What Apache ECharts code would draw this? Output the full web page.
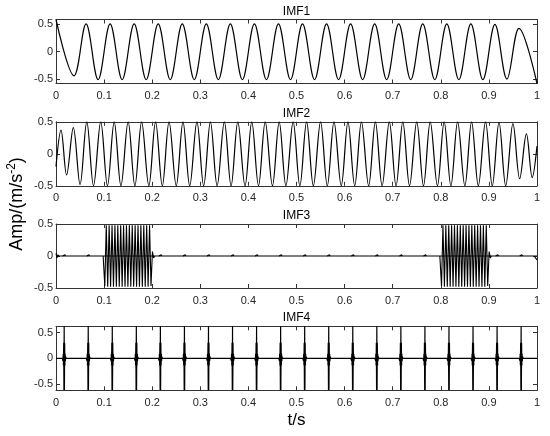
<!DOCTYPE html>
<html><head><meta charset="utf-8">
<script src="https://cdn.jsdelivr.net/npm/echarts@6/dist/echarts.min.js"></script>
<style>html,body{margin:0;padding:0;background:#fff}#c{width:550px;height:436px}</style>
</head><body><div id="c"></div>
<script>
// ---------------- data ----------------
const panelTitles = ['IMF1', 'IMF2', 'IMF3', 'IMF4'];
const yLimits = [0.58, 0.5, 0.5, 0.62];
const yTickValues = [-0.5, 0, 0.5];
const xLabel = 't/s';

// IMF1: extrema of the ~20 Hz component
const imf1T = [0, 0.0375, 0.0625, 0.0875, 0.1125, 0.1375, 0.1625, 0.1875, 0.2125, 0.2375,
  0.2625, 0.2875, 0.3125, 0.3375, 0.3625, 0.3875, 0.4125, 0.4375, 0.4625, 0.4875,
  0.5125, 0.5375, 0.5625, 0.5875, 0.6125, 0.6375, 0.6625, 0.6875, 0.7125, 0.7375,
  0.7625, 0.7875, 0.8125, 0.8375, 0.8625, 0.8875, 0.9125, 0.9375, 0.9625, 1];
const imf1V = [0.58, -0.44, 0.5, -0.51, 0.5, -0.51, 0.5, -0.51, 0.5, -0.51,
  0.5, -0.51, 0.5, -0.51, 0.5, -0.51, 0.5, -0.51, 0.5, -0.51,
  0.5, -0.51, 0.5, -0.51, 0.5, -0.51, 0.5, -0.51, 0.5, -0.51,
  0.5, -0.51, 0.5, -0.51, 0.5, -0.51, 0.49, -0.5, 0.42, -0.58];

// IMF2: extrema of the ~35 Hz component
const imf2T = [0, 0.0104, 0.022, 0.036, 0.050,
  0.064, 0.078, 0.093, 0.107, 0.121, 0.135, 0.150,
  0.164, 0.178, 0.193, 0.207, 0.221, 0.235, 0.250,
  0.264, 0.278, 0.293, 0.307, 0.321, 0.335, 0.350,
  0.364, 0.378, 0.393, 0.407, 0.421, 0.435, 0.450,
  0.464, 0.478, 0.493, 0.507, 0.521, 0.535, 0.550,
  0.564, 0.578, 0.593, 0.607, 0.621, 0.635, 0.650,
  0.664, 0.678, 0.693, 0.707, 0.721, 0.735, 0.750,
  0.764, 0.778, 0.793, 0.807, 0.821, 0.835, 0.850,
  0.864, 0.878, 0.893, 0.907, 0.921, 0.935, 0.950,
  0.964, 0.978, 0.990, 1.0];
const imf2V = [-0.2, 0.37, -0.33, 0.41, -0.48,
  0.5, -0.5, 0.5, -0.5, 0.5, -0.5, 0.5,
  -0.5, 0.5, -0.5, 0.5, -0.5, 0.5, -0.5,
  0.5, -0.5, 0.5, -0.5, 0.5, -0.5, 0.5,
  -0.5, 0.5, -0.5, 0.5, -0.5, 0.5, -0.5,
  0.5, -0.5, 0.5, -0.5, 0.5, -0.5, 0.5,
  -0.5, 0.5, -0.5, 0.5, -0.5, 0.5, -0.5,
  0.5, -0.5, 0.5, -0.5, 0.5, -0.5, 0.5,
  -0.5, 0.5, -0.5, 0.5, -0.5, 0.5, -0.5,
  0.5, -0.5, 0.5, -0.5, 0.49, -0.5, 0.47,
  -0.39, 0.31, -0.37, 0.12];

// IMF3: zero baseline, two high-frequency bursts, small blips
const baselineT = [0, 1];
const baselineV = [0, 0];
const imf3Burst1T = [0.098, 0.1015, 0.1045, 0.1075, 0.1105, 0.1135, 0.1165, 0.1195, 0.1225,
  0.1255, 0.1285, 0.1315, 0.1345, 0.1375, 0.1405, 0.1435, 0.1465, 0.1495, 0.1525,
  0.1555, 0.1585, 0.1615, 0.1645, 0.1675, 0.1705, 0.1735, 0.1765, 0.1795, 0.1825,
  0.1855, 0.1885, 0.1915, 0.1945, 0.1975, 0.2005, 0.203, 0.205];
const imf3Burst1V = [0, -0.47, 0.48, -0.48, 0.48, -0.48, 0.48, -0.48, 0.48,
  -0.48, 0.48, -0.48, 0.48, -0.48, 0.48, -0.48, 0.48, -0.48, 0.48,
  -0.48, 0.48, -0.48, 0.48, -0.48, 0.48, -0.48, 0.48, -0.48, 0.48,
  -0.48, 0.48, -0.48, 0.48, -0.47, 0.07, -0.03, 0];
const imf3Burst2T = [0.798, 0.8015, 0.8045, 0.8075, 0.8105, 0.8135, 0.8165, 0.8195, 0.8225,
  0.8255, 0.8285, 0.8315, 0.8345, 0.8375, 0.8405, 0.8435, 0.8465, 0.8495, 0.8525,
  0.8555, 0.8585, 0.8615, 0.8645, 0.8675, 0.8705, 0.8735, 0.8765, 0.8795, 0.8825,
  0.8855, 0.8885, 0.8915, 0.8945, 0.8975, 0.9005, 0.903, 0.905];
const imf3Burst2V = [0, -0.47, 0.48, -0.48, 0.48, -0.48, 0.48, -0.48, 0.48,
  -0.48, 0.48, -0.48, 0.48, -0.48, 0.48, -0.48, 0.48, -0.48, 0.48,
  -0.48, 0.48, -0.48, 0.48, -0.48, 0.48, -0.48, 0.48, -0.48, 0.48,
  -0.48, 0.48, -0.48, 0.48, -0.47, 0.07, -0.03, 0];
const imf3StartT = [0, 0.002, 0.004, 0.006];
const imf3StartV = [0.04, -0.03, 0.02, 0];
const imf3EndT = [0.994, 0.997, 1.0];
const imf3EndV = [0, 0.01, -0.06];
const imf3BlipDt = [-0.003, -0.0015, 0, 0.0015, 0.003];
const imf3BlipV = [0, 0.025, -0.03, 0.02, 0];

// IMF4: impulse train
const imf4PulseT = [0.017, 0.067, 0.117, 0.167, 0.217, 0.267, 0.317, 0.367, 0.417, 0.467,
  0.517, 0.567, 0.617, 0.667, 0.717, 0.767, 0.817, 0.867, 0.917, 0.967];
const imf4PulseDt = [-0.004, -0.003, -0.0025, -0.002, -0.0015, -0.001, -0.0005, 0,
  0.0005, 0.001, 0.0015, 0.002, 0.0025, 0.003, 0.004];
const imf4PulseV = [0, 0.03, -0.05, 0.09, -0.14, 0.3, -0.62, 0.62,
  -0.62, 0.3, -0.14, 0.09, -0.05, 0.03, 0];

// ---------------- build series data ----------------
const zip = (t, v) => t.map((x, i) => [x, v[i]]);
// join separate pieces with null points so that each piece is its own stroke
const pieces = list => {
  const out = [];
  list.forEach((p, k) => { if (k) out.push([p[0][0], null]); p.forEach(q => out.push(q)); });
  return out;
};
const placePulse = (t, dt, v) => dt.map((d, i) => [+(t + d).toFixed(4), v[i]]);

const inBurst = t => (t > 0.095 && t < 0.208) || (t > 0.795 && t < 0.908);
const imf3Pieces = [zip(imf3StartT, imf3StartV), zip(imf3Burst1T, imf3Burst1V),
  zip(imf3Burst2T, imf3Burst2V), zip(imf3EndT, imf3EndV)];
imf4PulseT.filter(t => !inBurst(t)).forEach(t => imf3Pieces.push(placePulse(t, imf3BlipDt, imf3BlipV)));
imf3Pieces.sort((a, b) => a[0][0] - b[0][0]);
const imf3Events = pieces(imf3Pieces);
const imf4Events = pieces(imf4PulseT.map(t => placePulse(t, imf4PulseDt, imf4PulseV)));
const baseline = zip(baselineT, baselineV);

// ---------------- layout & style ----------------
const FONT = '"Liberation Sans", Arial, Helvetica, sans-serif';
const AX = '#333333';
const gridLeft = 56, gridWidth = 481, gridHeight = 64;
const gridTops = [19.5, 121.8, 224, 326.3];

const grids = [], xAxes = [], yAxes = [], series = [], graphics = [];
const addLine = (i, data, smooth, width) => series.push({
  type: 'line', xAxisIndex: 2 * i, yAxisIndex: 2 * i, data: data,
  showSymbol: false, symbol: 'none', smooth: smooth, connectNulls: false,
  lineStyle: { color: '#000', width: width }, clip: true, animation: false
});
gridTops.forEach((top, i) => {
  grids.push({ left: gridLeft, top: top, width: gridWidth, height: gridHeight, containLabel: false });
  const xBase = {
    gridIndex: i, type: 'value', min: 0, max: 1, interval: 0.1,
    axisLine: { show: true, onZero: false, lineStyle: { color: AX, width: 1 } },
    axisTick: { show: true, inside: true, length: 4, lineStyle: { color: AX, width: 1 } },
    splitLine: { show: false }
  };
  xAxes.push(Object.assign({}, xBase, {
    position: 'bottom',
    axisLabel: { show: true, fontSize: 11, color: '#262626', fontFamily: FONT, margin: 7 }
  }));
  xAxes.push(Object.assign({}, xBase, { position: 'top', axisLabel: { show: false } }));
  const L = yLimits[i];
  const yBase = {
    gridIndex: i, type: 'value', min: -L, max: L,
    axisLine: { show: true, onZero: false, lineStyle: { color: AX, width: 1 } },
    axisTick: { show: true, inside: true, length: 4, customValues: yTickValues, lineStyle: { color: AX, width: 1 } },
    splitLine: { show: false }
  };
  yAxes.push(Object.assign({}, yBase, {
    position: 'left',
    axisLabel: { show: true, customValues: yTickValues, fontSize: 11, color: '#262626', fontFamily: FONT, margin: 3 }
  }));
  yAxes.push(Object.assign({}, yBase, { position: 'right', axisLabel: { show: false } }));
  graphics.push({
    type: 'text', x: gridLeft + gridWidth / 2, y: top - 8.3,
    style: { text: panelTitles[i], fill: '#000', font: '12px ' + FONT, textAlign: 'center', textVerticalAlign: 'middle' }
  });
});
addLine(0, zip(imf1T, imf1V), 0.36, 1.2);
addLine(1, zip(imf2T, imf2V), 0.36, 1.2);
addLine(2, baseline, false, 1.2);
addLine(2, imf3Events, false, 1.1);
addLine(3, baseline, false, 1.2);
addLine(3, imf4Events, false, 1.2);

graphics.push({
  type: 'text', x: 296.5, y: 420,
  style: { text: xLabel, fill: '#000', font: '17px ' + FONT, textAlign: 'center', textVerticalAlign: 'middle' }
});
graphics.push({
  type: 'text', x: 16, y: 204, rotation: Math.PI / 2,
  style: {
    text: '{a|Amp/(m/s}{b|-2}{a|)}', textAlign: 'center', textVerticalAlign: 'middle',
    rich: {
      a: { fontSize: 18, fontFamily: FONT, fill: '#000', verticalAlign: 'bottom', lineHeight: 20 },
      b: { fontSize: 12, fontFamily: FONT, fill: '#000', verticalAlign: 'top', lineHeight: 20 }
    }
  }
});

const chart = echarts.init(document.getElementById('c'), null, { renderer: 'canvas' });
chart.setOption({
  animation: false,
  backgroundColor: '#fff',
  grid: grids, xAxis: xAxes, yAxis: yAxes, series: series, graphic: graphics
});
</script></body></html>
